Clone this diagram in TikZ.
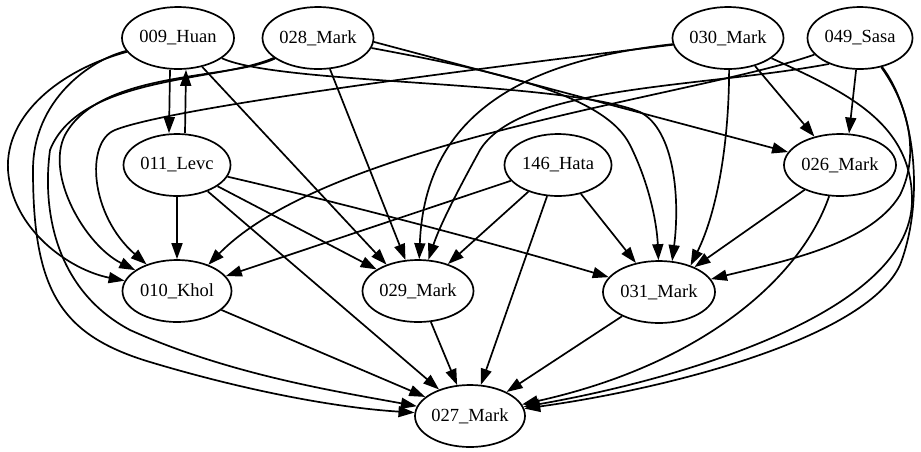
\documentclass[tikz,border=0pt]{standalone}
\usepackage{fontspec}
\setmainfont{Liberation Serif}
\usetikzlibrary{shapes.geometric,arrows.meta}
\begin{document}
\begin{tikzpicture}[x=1pt,y=-1pt,
  gnode/.style={ellipse,draw,line width=1.7pt,minimum height=62pt,inner sep=0pt,font=\fontsize{18.5}{22}\selectfont},
  arr/.style={line width=1.7pt,-{Triangle[length=16pt,width=11pt]}}]
\useasboundingbox (0,0) rectangle (921,451);
% nodes
\node[gnode,minimum width=112pt] (H009) at (178,38) {009\_Huan};
\node[gnode,minimum width=111pt] (M028) at (318,38) {028\_Mark};
\node[gnode,minimum width=111pt] (M030) at (728,38) {030\_Mark};
\node[gnode,minimum width=105pt] (S049) at (860,38) {049\_Sasa};
\node[gnode,minimum width=107pt] (L011) at (177,165) {011\_Levc};
\node[gnode,minimum width=107pt] (H146) at (558,165) {146\_Hata};
\node[gnode,minimum width=112pt] (M026) at (840,165) {026\_Mark};
\node[gnode,minimum width=109pt] (K010) at (177,291) {010\_Khol};
\node[gnode,minimum width=111pt] (M029) at (418,291) {029\_Mark};
\node[gnode,minimum width=112pt] (M031) at (659,292) {031\_Mark};
\node[gnode,minimum width=110pt] (M027) at (470,416) {027\_Mark};
% edges from 009_Huan
\draw[arr] ([xshift=-8pt]H009.south) -- ([xshift=-8pt]L011.north);
\draw[arr] ([xshift=8pt]L011.north) -- ([xshift=8pt]H009.south);
\draw[arr] (H009.-50) -- (M029.140);
\draw[arr] (H009) .. controls (60,70) and (5,115) .. (8,170) .. controls (12,230) and (70,270) .. (K010);
\draw[arr] (H009) .. controls (90,60) and (33,100) .. (33,170) .. controls (33,290) and (60,335) .. (150,362) .. controls (250,392) and (340,408) .. (M027);
\draw[arr] (H009) .. controls (280,85) and (560,80) .. (640,112) .. controls (675,130) and (680,200) .. (M031.67);
% edges from 028_Mark
\draw[arr] (M028.-69) -- (M029.112);
\draw[arr] (M028.-4) -- (M026.166);
\draw[arr] (M028) .. controls (500,72) and (605,95) .. (630,145) .. controls (650,185) and (657,225) .. (M031.91);
\draw[arr] (M028) .. controls (230,80) and (100,70) .. (65,135) .. controls (45,175) and (85,245) .. (K010);
\draw[arr] (M028) .. controls (220,82) and (80,75) .. (50,150) .. controls (42,210) and (55,290) .. (130,330) .. controls (230,375) and (340,392) .. (M027);
% edges from 030_Mark
\draw[arr] (M030.-46) -- (M026.132);
\draw[arr] (M030.-88) .. controls (729,140) and (718,210) .. (M031.40);
\draw[arr] (M030) .. controls (530,60) and (425,110) .. (M029);
\draw[arr] (M030) .. controls (450,72) and (170,108) .. (115,130) .. controls (85,142) and (90,215) .. (K010);
\draw[arr] (M030) .. controls (840,90) and (912,120) .. (912,200) .. controls (912,320) and (650,385) .. (M027);
% edges from 049_Sasa
\draw[arr] (S049.-97) -- (M026.74);
\draw[arr] (S049.-160) .. controls (700,95) and (330,140) .. (K010.40);
\draw[arr] (S049.-140) .. controls (700,88) and (520,85) .. (480,150) .. controls (458,190) and (440,225) .. (M029);
\draw[arr] (S049) .. controls (905,100) and (922,150) .. (900,195) .. controls (870,245) and (780,262) .. (M031);
\draw[arr] (S049) .. controls (915,110) and (925,200) .. (900,265) .. controls (865,340) and (660,390) .. (M027);
% edges from 011_Levc
\draw[arr] (L011) -- (K010);
\draw[arr] (L011) -- (M029);
\draw[arr] (L011) .. controls (350,205) and (500,245) .. (M031);
\draw[arr] (L011) -- (M027);
% edges from 146_Hata
\draw[arr] (H146) -- (K010.17);
\draw[arr] (H146) -- (M029);
\draw[arr] (H146) -- (M031);
\draw[arr] (H146) -- (M027);
% edges from 026_Mark
\draw[arr] (M026) -- (M031);
\draw[arr] (M026) .. controls (800,280) and (700,365) .. (M027);
% edges into 027_Mark
\draw[arr] (K010) -- (M027);
\draw[arr] (M029) -- (M027);
\draw[arr] (M031) -- (M027);
\end{tikzpicture}
\end{document}
